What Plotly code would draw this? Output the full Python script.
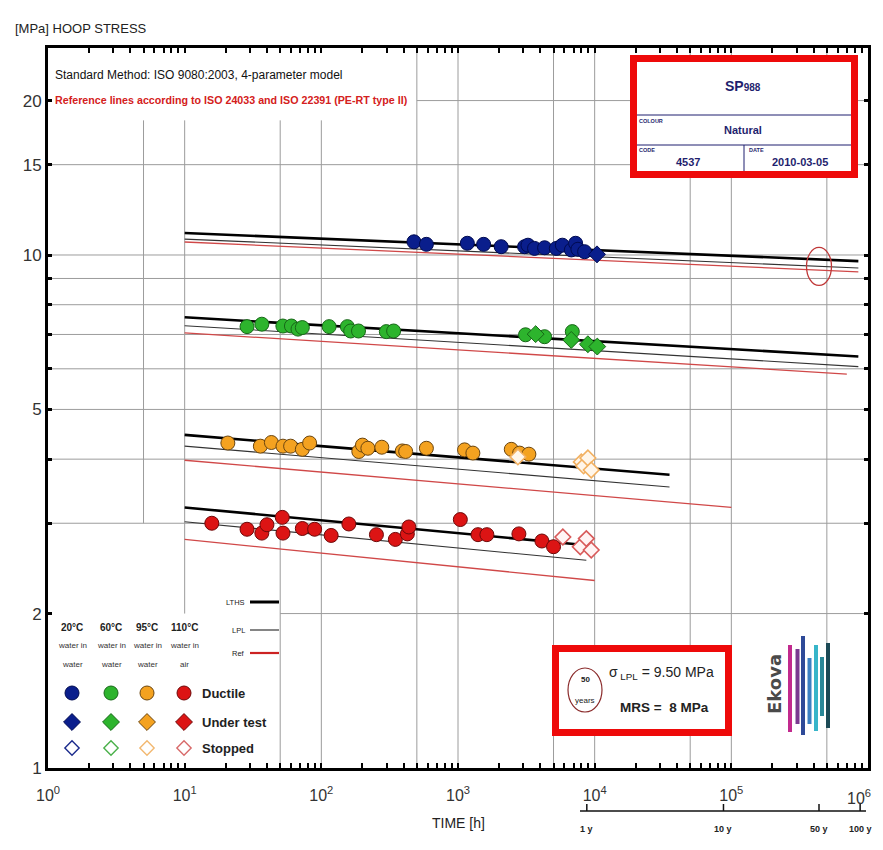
import math
import plotly.graph_objects as go

# ---------------- data ----------------
# 20 °C water in water
blue_duct_t = [476, 587, 1170, 1540, 2070, 3070, 3250, 3630, 4300, 5240, 5800, 6750, 7250, 7540, 8440]
blue_duct_s = [10.61, 10.49, 10.54, 10.49, 10.38, 10.38, 10.45, 10.30, 10.33, 10.30, 10.45, 10.23, 10.54, 10.26, 10.15]
blue_test_t = [10400]
blue_test_s = [10.03]
# 60 °C water in water
green_duct_t = [28.6, 36.7, 52.3, 60.4, 67.5, 72.6, 114, 155, 164, 187, 299, 338, 3120, 4300, 6860]
green_duct_s = [7.25, 7.33, 7.27, 7.27, 7.17, 7.22, 7.25, 7.25, 7.11, 7.11, 7.09, 7.11, 6.99, 6.93, 7.09]
green_test_t = [3700, 6740, 8920, 10450]
green_test_s = [7.01, 6.83, 6.70, 6.63]
# 95 °C water in water
orange_duct_t = [20.7, 35.8, 43.1, 52.4, 59.6, 72.6, 82.1, 188, 200, 219, 277, 391, 414, 587, 1117, 1285, 2454, 2824, 3302]
orange_duct_s = [4.30, 4.24, 4.31, 4.24, 4.24, 4.18, 4.30, 4.14, 4.26, 4.20, 4.22, 4.15, 4.14, 4.20, 4.17, 4.11, 4.18, 4.11, 4.09]
orange_stop_t = [2744, 7980, 8300, 8920, 9440]
orange_stop_s = [4.04, 3.95, 3.88, 4.02, 3.81]
# 110 °C water in air
red_duct_t = [15.8, 28.6, 36.7, 40.0, 51.8, 52.4, 72.6, 89.3, 118, 159, 253, 348, 426, 437, 1040, 1400, 1627, 2790, 4110, 5000]
red_duct_s = [3.00, 2.92, 2.87, 2.98, 3.08, 2.87, 2.93, 2.92, 2.84, 2.99, 2.85, 2.79, 2.86, 2.95, 3.05, 2.85, 2.85, 2.86, 2.77, 2.70]
red_stop_t = [5850, 7850, 8690, 9440]
red_stop_s = [2.82, 2.70, 2.80, 2.66]

# regression / reference lines (end points, log-log straight lines)
lths20_t = [10, 850000]; lths20_s = [11.04, 9.73]
lpl20_t = [10, 850000];  lpl20_s = [10.74, 9.43]
ref20_t = [10, 850000];  ref20_s = [10.60, 9.27]
lths60_t = [10, 850000]; lths60_s = [7.56, 6.34]
lpl60_t = [10, 850000];  lpl60_s = [7.28, 6.06]
ref60_t = [10, 700000];  ref60_s = [7.05, 5.86]
lths95_t = [10, 35300];  lths95_s = [4.46, 3.73]
lpl95_t = [10, 35300];   lpl95_s = [4.24, 3.53]
ref95_t = [10, 100000];  ref95_s = [3.98, 3.22]
lths110_t = [10, 8440];  lths110_s = [3.22, 2.72]
lpl110_t = [10, 8690];   lpl110_s = [3.02, 2.54]
ref110_t = [10, 10000];  ref110_s = [2.79, 2.32]

HOURS_PER_YEAR = 8760
year_marks = [1, 10, 50, 100]
year_labels = ["1 y", "10 y", "50 y", "100 y"]
fifty_years_h = 50 * HOURS_PER_YEAR
sigma_lpl = 9.50
mrs = 8

y_tickvals = [1, 2, 5, 10, 15, 20]
y_ticktext = ["1", "2", "5", "10", "15", "20"]
y_minor = [3, 4, 6, 7, 8, 9]
x_tickvals = [1, 10, 100, 1000, 10000, 100000]
x_ticktext = ["10<sup>0</sup>", "10<sup>1</sup>", "10<sup>2</sup>", "10<sup>3</sup>",
              "10<sup>4</sup>", "10<sup>5</sup>"]
x_last_label = "10<sup>6</sup>"
h_grid = [2, 3, 4, 5, 6, 7, 8, 9, 10, 15, 20]
v_grid = [5, 10, 50, 100, 500, 1000, 5000, 10000, 50000, 100000, 500000]

# ---------------- geometry ----------------
OFF = 8                      # page body margin of the browser
W, H = 883 - OFF, 850 - OFF
SX0, SX1, SY0, SY1 = 48, 868, 48, 768   # plot area on screen
ML, MT = SX0 - OFF, SY0 - OFF
MR, MB = W - (SX1 - OFF), H - (SY1 - OFF)
PW, PH = SX1 - SX0, SY1 - SY0
XMAX = 6.0
YMAX = 1.4035

def PX(px):
    return (px - SX0) / PW

def PY(py):
    return (SY1 - py) / PH

def fx(t):
    return math.log10(t) / XMAX

def fy(s):
    return math.log10(s) / YMAX

FONT = "Liberation Sans, Arial, sans-serif"
GRID = "#9c9c9c"

fig = go.Figure()

# ---------------- fit lines ----------------
def line(t, s, color, width):
    fig.add_trace(go.Scatter(x=t, y=s, mode="lines", line=dict(color=color, width=width),
                             hoverinfo="skip", showlegend=False))

REFC = "#d04848"
for (lt, ls, pt, ps, rt, rs) in [
    (lths20_t, lths20_s, lpl20_t, lpl20_s, ref20_t, ref20_s),
    (lths60_t, lths60_s, lpl60_t, lpl60_s, ref60_t, ref60_s),
    (lths95_t, lths95_s, lpl95_t, lpl95_s, ref95_t, ref95_s),
    (lths110_t, lths110_s, lpl110_t, lpl110_s, ref110_t, ref110_s),
]:
    line(rt, rs, REFC, 1.3)
    line(pt, ps, "#333333", 1.1)
    line(lt, ls, "#000000", 2.6)

# ---------------- data points ----------------
def pts(t, s, symbol, fill, edge, size, lw=1):
    fig.add_trace(go.Scatter(x=t, y=s, mode="markers",
                             marker=dict(symbol=symbol, color=fill, size=size,
                                         line=dict(color=edge, width=lw)),
                             showlegend=False, cliponaxis=False))

C = {
    "blue": ("#0a1e8c", "#000a50"),
    "green": ("#2db42d", "#176717"),
    "orange": ("#f4a220", "#6a4510"),
    "red": ("#dc1414", "#6e0808"),
}
pts(blue_duct_t, blue_duct_s, "circle", *C["blue"], 14)
pts(blue_test_t, blue_test_s, "diamond", *C["blue"], 13)
pts(green_duct_t, green_duct_s, "circle", *C["green"], 14)
pts(green_test_t, green_test_s, "diamond", *C["green"], 13)
pts(orange_duct_t, orange_duct_s, "circle", *C["orange"], 14)
pts(orange_stop_t, orange_stop_s, "diamond", "#fff6ea", "#f2b060", 12, 1.6)
pts(red_duct_t, red_duct_s, "circle", *C["red"], 14)
pts(red_stop_t, red_stop_s, "diamond", "#fff4f4", "#d85a5a", 12, 1.6)

# ---------------- legend symbols (pixel overlay axis) ----------------
leg_x = [72, 111, 147, 184]
cols = ["blue", "green", "orange", "red"]
stop_edges = ["#1a2a8c", "#49b049", "#f2b870", "#d86a6a"]
for xp, c, se in zip(leg_x, cols, stop_edges):
    f, e = C[c]
    fig.add_trace(go.Scatter(x=[xp], y=[693], xaxis="x2", yaxis="y2", mode="markers",
                             marker=dict(symbol="circle", size=14, color=f, line=dict(color=e, width=1)),
                             showlegend=False, hoverinfo="skip"))
    fig.add_trace(go.Scatter(x=[xp], y=[722], xaxis="x2", yaxis="y2", mode="markers",
                             marker=dict(symbol="diamond", size=13, color=f, line=dict(color=e, width=1)),
                             showlegend=False, hoverinfo="skip"))
    fig.add_trace(go.Scatter(x=[xp], y=[748], xaxis="x2", yaxis="y2", mode="markers",
                             marker=dict(symbol="diamond", size=11, color="white", line=dict(color=se, width=1.4)),
                             showlegend=False, hoverinfo="skip"))

shapes = []
annotations = []

# ---------------- grid ----------------
for s in h_grid:
    t0 = 1
    if s == 2:
        t0 = 50
    if s == 20:
        t0 = 500
    shapes.append(dict(type="line", xref="paper", yref="paper", x0=fx(t0), x1=1, y0=fy(s), y1=fy(s),
                       line=dict(color=GRID, width=1), layer="below"))
for t in v_grid:
    s0, s1 = 1, 10 ** YMAX
    if t == 5:
        s0, s1 = 3, 18.3
    elif t == 10:
        s0, s1 = 2, 18.3
    elif t in (50, 100):
        s1 = 18.3
    shapes.append(dict(type="line", xref="paper", yref="paper", x0=fx(t), x1=fx(t), y0=fy(s0), y1=fy(s1),
                       line=dict(color=GRID, width=1), layer="below"))

# 50-year circle
cx, cy = fx(fifty_years_h), fy(sigma_lpl)
shapes.append(dict(type="circle", xref="paper", yref="paper",
                   x0=cx - 12.5 / PW, x1=cx + 12.5 / PW, y0=cy - 19 / PH, y1=cy + 19 / PH,
                   line=dict(color="#c03838", width=1.3)))

# ---------------- SP988 box ----------------
NAVY = "#1f1f6e"
shapes.append(dict(type="rect", xref="paper", yref="paper", x0=PX(633.5), x1=PX(854.5), y0=PY(58.5), y1=PY(174.5),
                   fillcolor="white", line=dict(color="#ee0a0a", width=7), layer="above"))
for yy in (115, 145):
    shapes.append(dict(type="line", xref="paper", yref="paper", x0=PX(637), x1=PX(851), y0=PY(yy), y1=PY(yy),
                       line=dict(color=NAVY, width=1), layer="above"))
shapes.append(dict(type="line", xref="paper", yref="paper", x0=PX(744), x1=PX(744), y0=PY(145), y1=PY(171),
                   line=dict(color=NAVY, width=1), layer="above"))

def ann(text, px, py, size, color="#222222", xanchor="center", family=FONT, angle=0):
    annotations.append(dict(text=text, x=PX(px), y=PY(py), xref="paper", yref="paper", showarrow=False,
                            xanchor=xanchor, yanchor="middle", textangle=angle,
                            font=dict(family=family, size=size, color=color)))

ann("<b>SP<span style='font-size:10px'>988</span></b>", 743, 86, 14, NAVY)
ann("<b>COLOUR</b>", 637, 121, 5.5, NAVY, "left")
ann("<b>Natural</b>", 743, 130, 11, NAVY)
ann("<b>CODE</b>", 637, 150, 5.5, NAVY, "left")
ann("<b>4537</b>", 688, 162, 11, NAVY)
ann("<b>DATE</b>", 747, 150, 5.5, NAVY, "left")
ann("<b>2010-03-05</b>", 800, 162, 11, NAVY)

# ---------------- 50 years box ----------------
shapes.append(dict(type="rect", xref="paper", yref="paper", x0=PX(555.5), x1=PX(728.5), y0=PY(648.5), y1=PY(732.5),
                   fillcolor="white", line=dict(color="#ee0a0a", width=7), layer="above"))
shapes.append(dict(type="circle", xref="paper", yref="paper", x0=PX(568), x1=PX(602), y0=PY(668), y1=PY(712),
                   line=dict(color="#8a2a2a", width=1.2), layer="above"))
ann("<b>50</b>", 585, 679, 8, "#222")
ann("years", 585, 700, 8, "#222")
ann("σ<sub> LPL</sub> = %.2f MPa" % sigma_lpl, 661, 673, 14, "#222")
ann("<b>MRS =  %d MPa</b>" % mrs, 664, 707, 13.5, "#222")

# ---------------- logo ----------------
ann("<b>Ekova</b>", 774, 684, 18, "#4a4a4a", family="DejaVu Sans, sans-serif", angle=-90)
bars = [(790, 645, 732, "#c22a8e"), (797.5, 649, 724, "#7a3a90"), (803, 636, 735, "#2e4a98"),
        (809.5, 658, 724, "#3b80c2"), (816, 645, 731, "#37b5c9"), (822, 657, 716, "#2a8898"),
        (828, 643, 728, "#1c4a56")]
for bx, by0, by1, bc in bars:
    shapes.append(dict(type="rect", xref="paper", yref="paper", x0=PX(bx - 2), x1=PX(bx + 2),
                       y0=PY(by1), y1=PY(by0), fillcolor=bc, line=dict(width=0), layer="above"))

# ---------------- legend text ----------------
for xp, tl, l2, l3 in zip(leg_x, ["20°C", "60°C", "95°C", "110°C"],
                          ["water in", "water in", "water in", "water in"],
                          ["water", "water", "water", "air"]):
    ann("<b>%s</b>" % tl, xp, 627, 10, "#222")
    ann(l2, xp, 645, 8, "#333")
    ann(l3, xp, 664, 8, "#333")
ann("<b>Ductile</b>", 200, 693, 13, "#222", "left")
ann("<b>Under test</b>", 200, 722, 13, "#222", "left")
ann("<b>Stopped</b>", 200, 748, 13, "#222", "left")

for lbl, yy, col, wd in [("LTHS", 602, "#000000", 3), ("LPL", 630, "#333333", 1.2), ("Ref", 653, "#cc2222", 2.2)]:
    ann(lbl, 247, yy, 7.5, "#222", "right")
    shapes.append(dict(type="line", xref="paper", yref="paper", x0=PX(250), x1=PX(279), y0=PY(yy), y1=PY(yy),
                       line=dict(color=col, width=wd)))

# ---------------- header texts ----------------
ann("[MPa] HOOP STRESS", 13, 28, 13, "#222", "left")
ann("Standard Method: ISO 9080:2003, 4-parameter model", 53, 75, 12, "#111", "left")
ann("<b>Reference lines according to ISO 24033 and ISO 22391 (PE-RT type II)</b>", 53, 100, 10.7, "#d42020", "left")
ann("TIME [h]", 458, 823, 14, "#222")
ann(x_last_label, 873, 797, 16, "#333", "right")

# ---------------- year axis ----------------
shapes.append(dict(type="line", xref="paper", yref="paper", x0=PX(580), x1=PX(866), y0=PY(811), y1=PY(811),
                   line=dict(color="#111", width=1.5)))
for yv, yl in zip(year_marks, year_labels):
    xx = fx(yv * HOURS_PER_YEAR)
    shapes.append(dict(type="line", xref="paper", yref="paper", x0=xx, x1=xx, y0=PY(811), y1=PY(804),
                       line=dict(color="#111", width=1.5)))
    annotations.append(dict(text="<b>%s</b>" % yl, x=xx, y=PY(829), xref="paper", yref="paper",
                            showarrow=False, xanchor="center", yanchor="middle",
                            font=dict(family=FONT, size=9, color="#222")))

# ---------------- axes ----------------
x_minor = [k * 10 ** n for n in range(0, 6) for k in range(2, 10)] + [10 ** 6]

fig.update_layout(
    width=W, height=H,
    margin=dict(l=ML, r=MR, t=MT, b=MB, autoexpand=False),
    paper_bgcolor="white", plot_bgcolor="rgba(0,0,0,0)",
    showlegend=False,
    font=dict(family=FONT, color="#222"),
    xaxis=dict(type="log", range=[0, XMAX], tickmode="array", tickvals=x_tickvals, ticktext=x_ticktext,
               showgrid=False, zeroline=False, showline=True, linecolor="black", linewidth=3,
               mirror="ticks", ticks="inside", ticklen=5, tickwidth=1.5, tickcolor="black",
               ticklabelstandoff=11,
               minor=dict(tickmode="array", tickvals=x_minor, ticks="inside", ticklen=5, tickwidth=1.5,
                          tickcolor="black", showgrid=False),
               tickfont=dict(family=FONT, size=16, color="#333")),
    yaxis=dict(type="log", range=[0, YMAX], tickmode="array", tickvals=y_tickvals, ticktext=y_ticktext,
               showgrid=False, zeroline=False, showline=True, linecolor="black", linewidth=3,
               mirror="ticks", ticks="inside", ticklen=4, tickwidth=3, tickcolor="black",
               minor=dict(tickmode="array", tickvals=y_minor, ticks="inside", ticklen=4, tickwidth=3,
                          tickcolor="black", showgrid=False),
               tickfont=dict(family=FONT, size=17, color="#333")),
    xaxis2=dict(overlaying="x", range=[SX0, SX1], visible=False, fixedrange=True),
    yaxis2=dict(overlaying="y", range=[SY1, SY0], visible=False, fixedrange=True),
    shapes=shapes,
    annotations=annotations,
)

fig.write_html("out.html")
